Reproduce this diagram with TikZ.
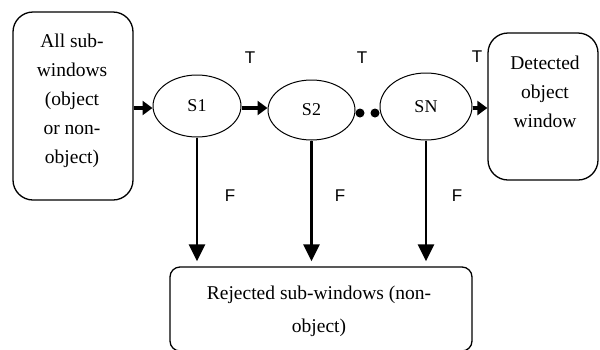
\documentclass[tikz,border=0pt]{standalone}
\usepackage{fontspec}
\setmainfont{Liberation Serif}
\newfontfamily\labelfont{Liberation Sans}
\usetikzlibrary{arrows.meta,shapes.geometric}
\begin{document}
\begin{tikzpicture}[x=1pt,y=-1pt,
  box/.style={draw,line width=1.3pt,rounded corners=20pt,inner sep=0pt},
  stage/.style={draw,ellipse,line width=1pt,inner sep=0pt},
  txt/.style={align=center,font=\fontsize{19.5}{29}\selectfont},
  tf/.style={font=\labelfont\fontsize{17}{20}\selectfont},
  flow/.style={line width=4pt,-{Triangle[length=10pt,width=14pt]}},
  reject/.style={line width=2.8pt,-{Triangle[length=17pt,width=16pt]},shorten >=5pt},
  dotmark/.style={circle,fill,inner sep=0pt,minimum size=9pt}]
\useasboundingbox (0,0) rectangle (600,349);
\fill[white] (0,0) rectangle (600,349);

% source and sink boxes
\node[box,minimum width=120pt,minimum height=188pt] (all) at (73,106) {};
\node[txt] at (72,101) {All sub-\\windows\\(object\\or non-\\object)};
\node[box,minimum width=110pt,minimum height=147pt] (det) at (543,106.5) {};
\node[txt] at (545,92) {Detected\\object\\window};
\node[box,rounded corners=10pt,minimum width=302pt,minimum height=84pt] (rej) at (321,309) {};
\node[txt,font=\fontsize{19.5}{33}\selectfont] at (319,311) {Rejected sub-windows (non-\\object)};

% classifier stages
\node[stage,minimum width=88pt,minimum height=62pt,font=\fontsize{18}{20}\selectfont] (s1) at (197,106) {S1};
\node[stage,minimum width=87pt,minimum height=60pt,font=\fontsize{18}{20}\selectfont] (s2) at (311.5,110) {S2};
\node[stage,minimum width=92pt,minimum height=67pt,font=\fontsize{18}{20}\selectfont] (sn) at (426,106.5) {SN};

% true branches
\draw[flow] (all.east |- 0,108) -- (s1.west |- 0,108);
\draw[flow] (s1.east |- 0,108) -- (s2.west |- 0,108);
\draw[flow] (sn.east |- 0,108) -- (det.west |- 0,108);
\node[dotmark] (dA) at (360,113) {};
\node[dotmark] (dB) at (375,113) {};

% false branches
\draw[reject] (s1.south) -- (s1.south |- rej.north);
\draw[reject] (s2.south) -- (s2.south |- rej.north);
\draw[reject] (sn.south) -- (sn.south |- rej.north);

% branch labels
\node[tf] at (250,58) {T};
\node[tf] at (362,58) {T};
\node[tf] at (477,57) {T};
\node[tf] at (230,196) {F};
\node[tf] at (340,196) {F};
\node[tf] at (457,196) {F};
\end{tikzpicture}
\end{document}
